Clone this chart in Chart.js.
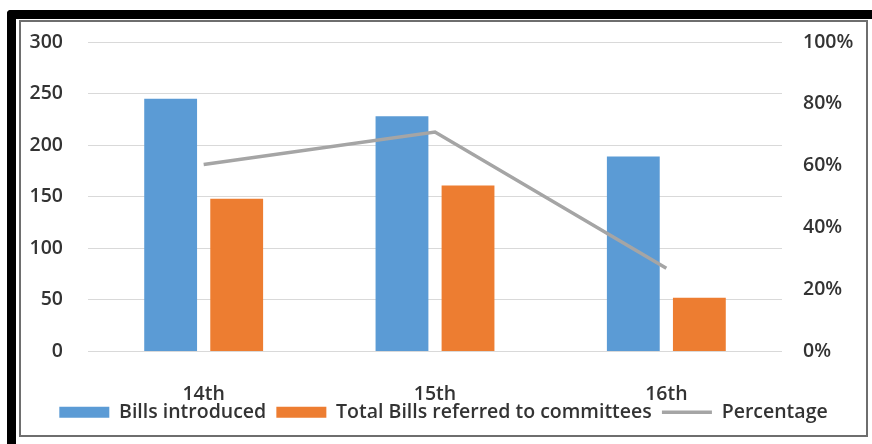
<!DOCTYPE html>
<html>
<head>
<meta charset="utf-8">
<script src="https://cdn.jsdelivr.net/npm/chart.js@4"></script>
<style>
  html, body { margin: 0; padding: 0; background: #fff; }
  body { width: 872px; height: 444px; position: relative; overflow: hidden; }
  .frame {
    position: absolute; left: 7px; top: 10px; width: 870px; height: 440px;
    border-top: 9px solid #000; border-left: 9px solid #000;
    border-top-left-radius: 4px; box-sizing: border-box;
  }
  .panel {
    position: absolute; left: 19px; top: 20px; width: 849px; height: 417px;
    border: 2px solid #6e6e6e; box-sizing: border-box; background: #fff;
  }
  .wrap { position: absolute; left: 21px; top: 22px; width: 845px; height: 413px; }
</style>
</head>
<body>
<div class="frame"></div>
<div class="panel"></div>
<div class="wrap"><canvas id="chart"></canvas></div>
<script>
const categories = ['14th', '15th', '16th']
const billsIntroduced = [245, 228, 189]
const billsReferred = [148, 161, 52]
const percentage = [60.4, 70.9, 26.9]

const textColor = '#333333'
const font = { family: 'Open Sans', size: 19.5, weight: '600' }

const chart = new Chart(document.getElementById('chart'), {
  type: 'bar',
  data: {
    labels: categories,
    datasets: [
      {
        label: 'Bills introduced',
        data: billsIntroduced,
        backgroundColor: '#5B9BD5',
        borderWidth: 0,
        categoryPercentage: 0.571,
        barPercentage: 0.8,
        yAxisID: 'y',
        order: 1
      },
      {
        label: 'Total Bills referred to committees',
        data: billsReferred,
        backgroundColor: '#ED7D31',
        borderWidth: 0,
        categoryPercentage: 0.571,
        barPercentage: 0.8,
        yAxisID: 'y',
        order: 1
      },
      {
        type: 'line',
        label: 'Percentage',
        data: percentage,
        borderColor: '#A5A5A5',
        backgroundColor: '#A5A5A5',
        borderWidth: 3.5,
        pointRadius: 0,
        tension: 0,
        yAxisID: 'y1',
        order: 0
      }
    ]
  },
  options: {
    responsive: true,
    maintainAspectRatio: false,
    animation: false,
    layout: { padding: { top: 20, bottom: 3, left: 0, right: 0 } },
    plugins: {
      tooltip: { enabled: false },
      legend: {
        position: 'bottom',
        labels: {
          color: textColor,
          font: font,
          usePointStyle: true,
          pointStyleWidth: 50,
          boxHeight: 11,
          padding: 0,
          sort: (a, b) => a.datasetIndex - b.datasetIndex,
          generateLabels: chart => {
            const items = Chart.defaults.plugins.legend.labels.generateLabels(chart)
            items.forEach(item => {
              item.pointStyle = item.datasetIndex === 2 ? 'line' : 'rect'
              // a little room before the next legend entry
              if (item.datasetIndex < 2) item.text += '  '
            })
            return items
          }
        }
      }
    },
    scales: {
      x: {
        grid: { display: false, drawTicks: false },
        border: { display: false },
        ticks: { color: textColor, font: font, padding: 31 },
        afterFit: scale => { scale.height = 51 }
      },
      y: {
        position: 'left',
        min: 0,
        max: 300,
        ticks: { stepSize: 50, color: textColor, font: font, padding: 0 },
        grid: { color: '#d9d9d9', tickColor: 'transparent', tickLength: 25 },
        border: { display: false },
        afterFit: scale => { scale.width = 67 }
      },
      y1: {
        position: 'right',
        min: 0,
        max: 100,
        ticks: { stepSize: 20, color: textColor, font: font, padding: 0, callback: v => v + '%' },
        grid: { color: 'transparent', drawOnChartArea: false, tickColor: 'transparent', tickLength: 21 },
        border: { display: false },
        afterFit: scale => { scale.width = 84 }
      }
    }
  }
})
</script>
</body>
</html>
